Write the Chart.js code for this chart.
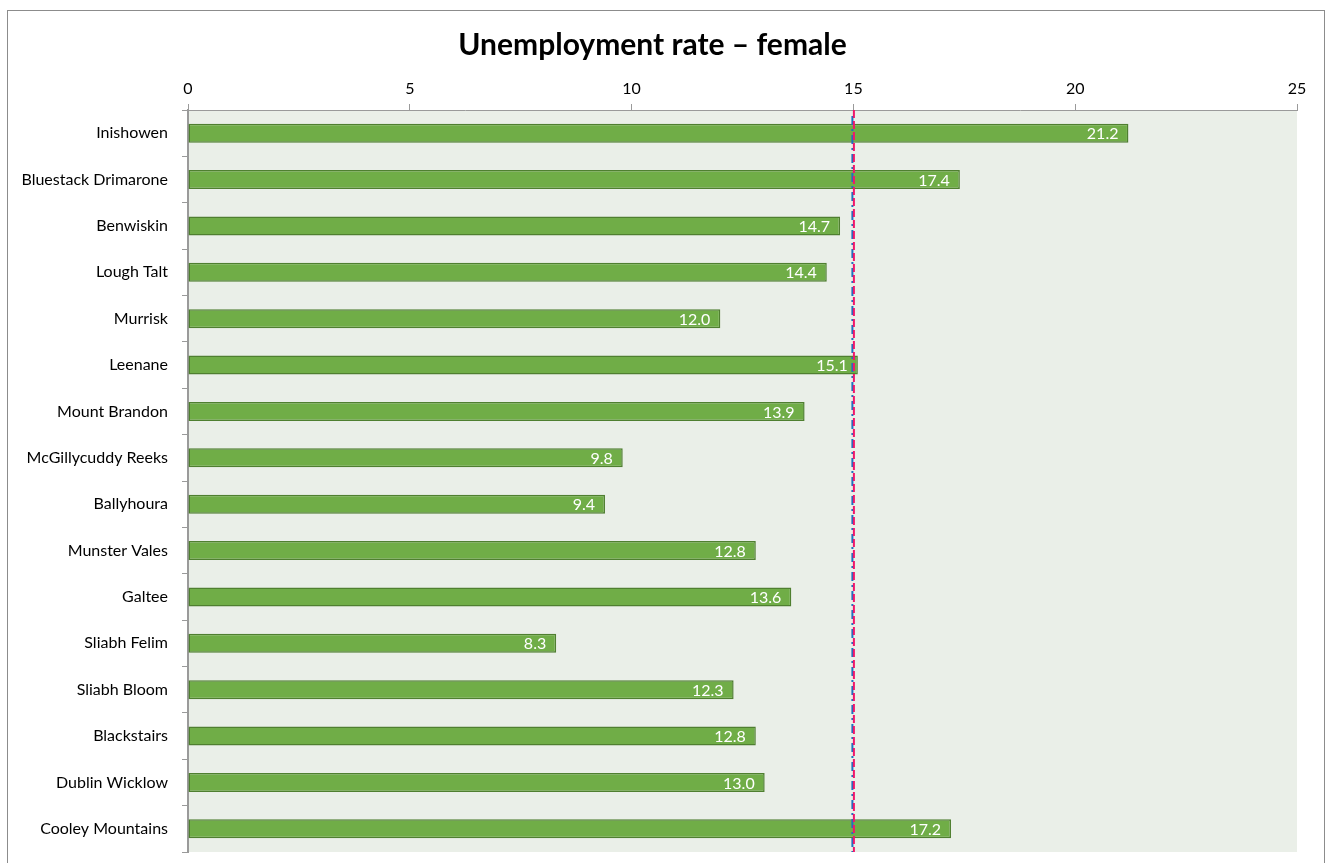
<!DOCTYPE html>
<html lang="en">
<head>
    <meta charset="UTF-8">
    <title>Unemployment rate – female</title>
    <script src="https://cdn.jsdelivr.net/npm/chart.js"></script>
    <style>
        body { margin: 0; background: #fff; }
        .wrap { width: 1332px; height: 863px; }
    </style>
</head>
<body>
    <div class="wrap"><canvas id="chart"></canvas></div>

    <script>
        const areas = ['Inishowen', 'Bluestack Drimarone', 'Benwiskin', 'Lough Talt', 'Murrisk', 'Leenane',
            'Mount Brandon', 'McGillycuddy Reeks', 'Ballyhoura', 'Munster Vales', 'Galtee', 'Sliabh Felim',
            'Sliabh Bloom', 'Blackstairs', 'Dublin Wicklow', 'Cooley Mountains'];
        const femaleRate = [21.2, 17.4, 14.7, 14.4, 12.0, 15.1, 13.9, 9.8, 9.4, 12.8, 13.6, 8.3, 12.3, 12.8, 13.0, 17.2];
        const referenceRate = 15;
        const xTicks = [0, 5, 10, 15, 20, 25];

        const fontFamily = 'Lato, "Liberation Sans", sans-serif';

        // frame around the chart + plot background
        const framePlugin = {
            id: 'frame',
            beforeDraw(chart) {
                const ctx = chart.ctx;
                const a = chart.chartArea;
                ctx.save();
                ctx.strokeStyle = '#8c8c8c';
                ctx.lineWidth = 1;
                ctx.strokeRect(7.5, 10.5, chart.width - 15, chart.height + 10);
                ctx.fillStyle = '#eaefe8';
                ctx.fillRect(a.left, a.top, a.right - a.left, a.bottom - a.top);
                ctx.restore();
            }
        };

        // dashed reference line at 15 and value labels inside bars
        const overlayPlugin = {
            id: 'overlay',
            afterDatasetsDraw(chart) {
                const ctx = chart.ctx;
                const a = chart.chartArea;
                const x = chart.scales.x.getPixelForValue(referenceRate);
                ctx.save();
                ctx.lineWidth = 2;
                ctx.strokeStyle = '#1f6fbf';
                ctx.setLineDash([9, 4, 2, 4]);
                ctx.beginPath();
                ctx.moveTo(x - 1, a.top + 6);
                ctx.lineTo(x - 1, a.bottom);
                ctx.stroke();
                ctx.strokeStyle = '#f0176a';
                ctx.setLineDash([8, 3]);
                ctx.beginPath();
                ctx.moveTo(x + 0.5, a.top);
                ctx.lineTo(x + 0.5, a.bottom);
                ctx.stroke();
                ctx.restore();

                const meta = chart.getDatasetMeta(0);
                ctx.save();
                ctx.fillStyle = '#ffffff';
                ctx.font = '16px ' + fontFamily;
                ctx.textAlign = 'right';
                ctx.textBaseline = 'middle';
                meta.data.forEach((bar, i) => {
                    ctx.fillText(femaleRate[i].toFixed(1), bar.x - 10, bar.y + 1);
                });
                ctx.restore();
            }
        };

        new Chart(document.getElementById('chart'), {
            type: 'bar',
            data: {
                labels: areas,
                datasets: [{
                    label: 'Female',
                    data: femaleRate,
                    backgroundColor: '#70ad47',
                    borderColor: '#4f7f30',
                    borderWidth: 1.5,
                    borderSkipped: false,
                    categoryPercentage: 1,
                    barPercentage: 0.41
                }]
            },
            options: {
                indexAxis: 'y',
                responsive: true,
                maintainAspectRatio: false,
                animation: false,
                layout: { padding: { left: 8, top: 10, right: 35, bottom: 11 } },
                scales: {
                    x: {
                        position: 'top',
                        min: 0,
                        max: 25,
                        afterBuildTicks(scale) {
                            scale.ticks = xTicks.map(v => ({ value: v }));
                        },
                        afterFit(scale) {
                            scale.height = 34;
                            scale.paddingLeft = 0;
                            scale.paddingRight = 0;
                        },
                        ticks: { color: '#000', font: { family: fontFamily, size: 16 }, padding: 6 },
                        grid: { drawOnChartArea: false, tickLength: 6, color: '#9a9a9a' },
                        border: { color: '#9a9a9a', width: 1 }
                    },
                    y: {
                        afterFit(scale) {
                            scale.width = 180;
                            scale.paddingTop = 0;
                            scale.paddingBottom = 0;
                        },
                        ticks: { color: '#000', font: { family: fontFamily, size: 16 }, padding: 14 },
                        grid: { drawOnChartArea: false, offset: true, tickLength: 6, color: '#9a9a9a' },
                        border: { color: '#9a9a9a', width: 2 }
                    }
                },
                plugins: {
                    legend: { display: false },
                    tooltip: { enabled: false },
                    title: {
                        display: true,
                        text: 'Unemployment rate – female',
                        color: '#000',
                        font: { family: fontFamily, size: 30, weight: 'bold' },
                        padding: { top: 17, bottom: 13 }
                    }
                }
            },
            plugins: [framePlugin, overlayPlugin]
        });
    </script>
</body>
</html>
